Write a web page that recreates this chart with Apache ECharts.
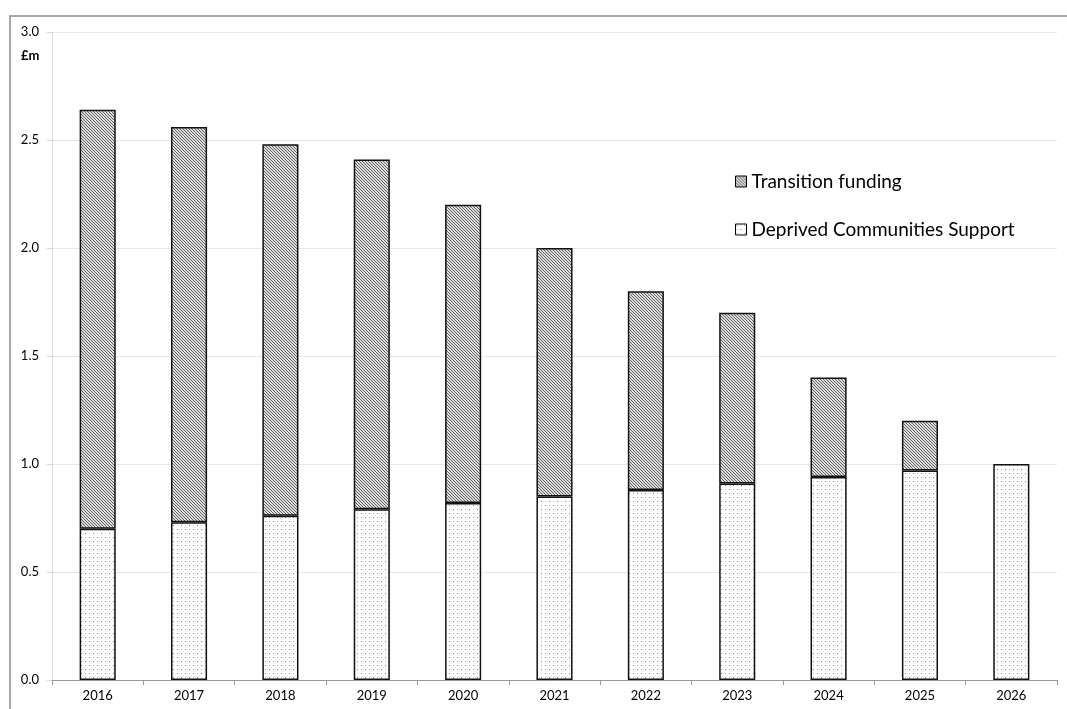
<!DOCTYPE html>
<html>
<head>
<meta charset="utf-8">
<script src="https://cdn.jsdelivr.net/npm/echarts@6/dist/echarts.min.js"></script>
<style>html,body{margin:0;padding:0;background:#fff}#c{width:1067px;height:709px}</style>
</head>
<body>
<div id="c"></div>
<script>
const categories = ['2016','2017','2018','2019','2020','2021','2022','2023','2024','2025','2026'];
const deprivedSupport = [0.70, 0.73, 0.76, 0.79, 0.82, 0.85, 0.88, 0.91, 0.94, 0.97, 1.00];
const transitionFunding = [1.94, 1.83, 1.72, 1.62, 1.38, 1.15, 0.92, 0.79, 0.46, 0.23, 0];
const yTicks = [0, 0.5, 1.0, 1.5, 2.0, 2.5, 3.0];

function hatch() {
  const n = 3;
  const c = document.createElement('canvas'); c.width = n; c.height = n;
  const g = c.getContext('2d');
  g.fillStyle = '#dadada'; g.fillRect(0,0,n,n);
  g.fillStyle = '#666666';
  for (let i=0;i<n;i++) g.fillRect(i,i,1,1);
  return c;
}
function dots() {
  const c = document.createElement('canvas'); c.width = 8; c.height = 8;
  const g = c.getContext('2d');
  g.fillStyle = '#ffffff'; g.fillRect(0,0,8,8);
  g.fillStyle = '#7a7a7a';
  g.fillRect(1,1,1,1); g.fillRect(5,5,1,1);
  g.fillStyle = '#c8c8c8';
  g.fillRect(5,1,1,1); g.fillRect(1,5,1,1);
  return c;
}
const hatchPat = {image: hatch(), repeat: 'repeat'};
const dotPat = {image: dots(), repeat: 'repeat'};

const chart = echarts.init(document.getElementById('c'), null, {renderer: 'canvas'});
const font = 'Lato, "Open Sans", sans-serif';
chart.setOption({
  animation: false,
  textStyle: {fontFamily: font},
  grid: {left: 52, right: 10, top: 32, bottom: 29, containLabel: false},
  graphic: [
    {type: 'rect', shape: {x: 10, y: 16, width: 1200, height: 900}, style: {fill: 'none', stroke: '#8c8c8c', lineWidth: 1.5}, silent: true},
    {type: 'text', left: 21, top: 49, style: {text: '£m', font: 'bold 13px ' + font, fill: '#000'}}
  ],
  legend: {
    orient: 'vertical', left: 730, top: 167, itemGap: 29,
    itemWidth: 11, itemHeight: 11, icon: 'rect',
    textStyle: {fontSize: 19, color: '#000', fontFamily: font},
    data: [
      {name: 'Transition funding', itemStyle: {color: hatchPat, borderColor: '#000', borderWidth: 1}},
      {name: 'Deprived Communities Support', itemStyle: {color: dotPat, borderColor: '#000', borderWidth: 1}}
    ]
  },
  xAxis: {
    type: 'category', data: categories,
    axisLine: {lineStyle: {color: '#999', width: 1}},
    axisTick: {show: true, length: 5, lineStyle: {color: '#999'}},
    axisLabel: {color: '#000', fontSize: 13, margin: 9, fontFamily: font}
  },
  yAxis: {
    type: 'value', min: 0, max: 3, interval: 0.5,
    axisLine: {show: true, lineStyle: {color: '#d9d9d9'}},
    axisTick: {show: true, length: 5, lineStyle: {color: '#d9d9d9'}},
    splitLine: {lineStyle: {color: '#e6e6e6'}},
    axisLabel: {color: '#000', fontSize: 13, margin: 13, fontFamily: font,
      formatter: v => (yTicks.includes(v) ? v.toFixed(1) : '')}
  },
  series: [
    {name: 'Deprived Communities Support', type: 'bar', stack: 's', data: deprivedSupport, barWidth: '39.5%',
      itemStyle: {color: dotPat, borderColor: '#111', borderWidth: 1.5}},
    {name: 'Transition funding', type: 'bar', stack: 's', barWidth: '39.5%',
      data: transitionFunding.map(v => v === 0 ? null : v),
      itemStyle: {color: hatchPat, borderColor: '#111', borderWidth: 1.5}}
  ]
});
</script>
</body>
</html>
